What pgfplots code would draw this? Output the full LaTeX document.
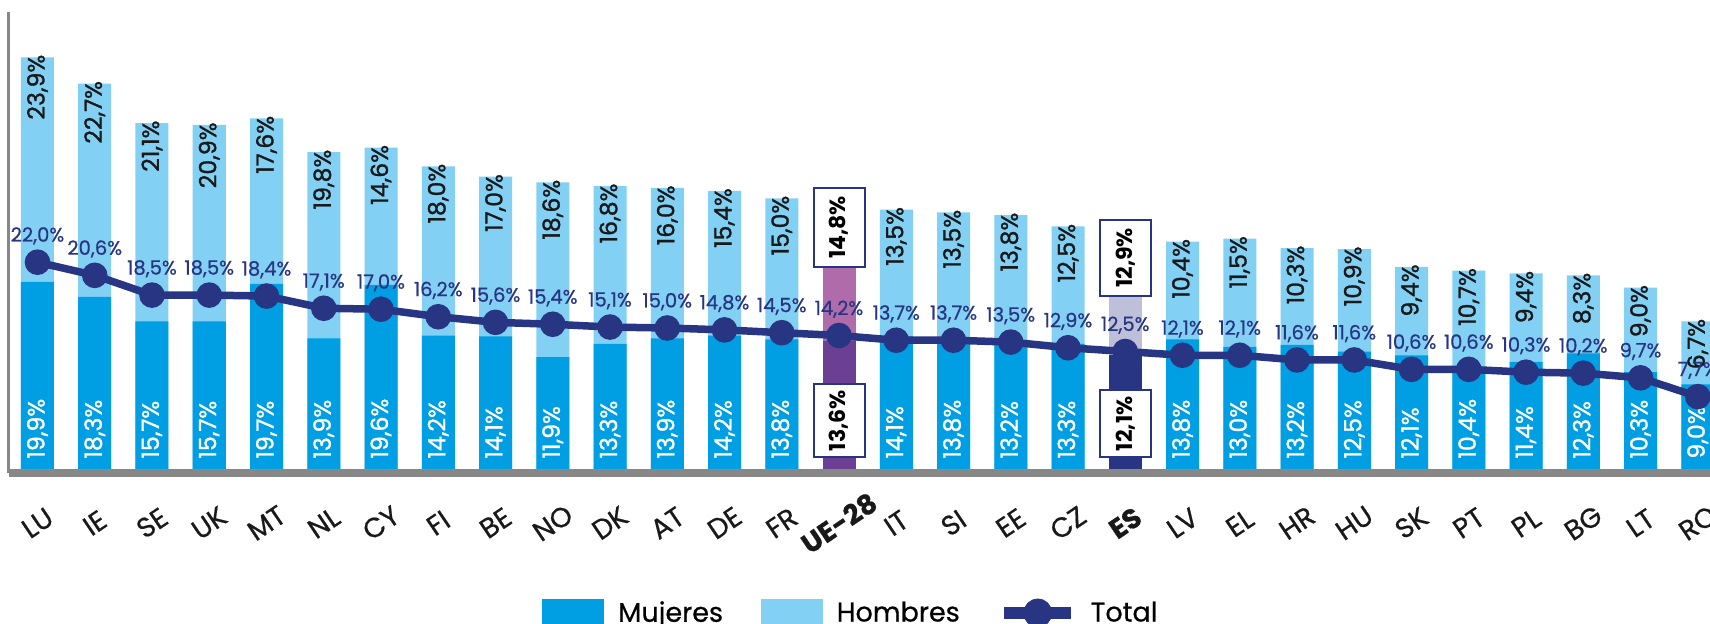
\documentclass[border=0pt]{standalone}
\usepackage{pgfplots}
\pgfplotsset{compat=1.18}
\usepackage{pgfplotstable}
\usepackage{fontspec}
\setmainfont{Poppins}
\newfontfamily\med[FakeBold=1.2]{Poppins}
\newfontfamily\semi[FakeBold=0.6]{Poppins}
\definecolor{mcol}{HTML}{009FE3}
\definecolor{hcol}{HTML}{83D0F5}
\definecolor{navy}{HTML}{283583}
\definecolor{uedark}{HTML}{6B3F94}
\definecolor{uelight}{HTML}{B06CAA}
\definecolor{esdark}{HTML}{283583}
\definecolor{eslight}{HTML}{BEC0DA}
\definecolor{axgrey}{HTML}{878787}

% all countries: x, mujeres, hombres, total
\pgfplotstableread{
x m h t
0 19.9 23.9 22.0
1 18.3 22.7 20.6
2 15.7 21.1 18.5
3 15.7 20.9 18.5
4 19.7 17.6 18.4
5 13.9 19.8 17.1
6 19.6 14.6 17.0
7 14.2 18.0 16.2
8 14.1 17.0 15.6
9 11.9 18.6 15.4
10 13.3 16.8 15.1
11 13.9 16.0 15.0
12 14.2 15.4 14.8
13 13.8 15.0 14.5
14 13.6 14.8 14.2
15 14.1 13.5 13.7
16 13.8 13.5 13.7
17 13.2 13.8 13.5
18 13.3 12.5 12.9
19 12.1 12.9 12.5
20 13.8 10.4 12.1
21 13.0 11.5 12.1
22 13.2 10.3 11.6
23 12.5 10.9 11.6
24 12.1 9.4 10.6
25 10.4 10.7 10.6
26 11.4 9.4 10.3
27 12.3 8.3 10.2
28 10.3 9.0 9.7
29 9.0 6.7 7.7
}\alldata

% countries drawn in the standard colours
\pgfplotstableread{
x m h
0 19.9 23.9
1 18.3 22.7
2 15.7 21.1
3 15.7 20.9
4 19.7 17.6
5 13.9 19.8
6 19.6 14.6
7 14.2 18.0
8 14.1 17.0
9 11.9 18.6
10 13.3 16.8
11 13.9 16.0
12 14.2 15.4
13 13.8 15.0
15 14.1 13.5
16 13.8 13.5
17 13.2 13.8
18 13.3 12.5
20 13.8 10.4
21 13.0 11.5
22 13.2 10.3
23 12.5 10.9
24 12.1 9.4
25 10.4 10.7
26 11.4 9.4
27 12.3 8.3
28 10.3 9.0
29 9.0 6.7
}\norm

\pgfplotstableread{
x m h
14 13.6 14.8
}\ue
\pgfplotstableread{
x m h
19 12.1 12.9
}\es
\pgfplotstableread{
x m h
14 13.6 14.8
19 12.1 12.9
}\spec

\newcommand{\pct}{\pgfmathprintnumber[fixed,fixed zerofill,precision=1,use comma,assume math mode=true]{\pgfplotspointmeta}\%}

\begin{document}
\begin{tikzpicture}
\begin{axis}[
  anchor=origin, at={(0,0)},
  x=28.625pt, y=4.7pt,
  xmin=-0.5, xmax=29.214,
  ymin=-0.4255, ymax=48.62,
  axis x line*=bottom, axis y line*=left,
  axis line style={-},
  x axis line style={line width=4pt, draw=axgrey},
  y axis line style={line width=1.5pt, draw=axgrey},
  ytick=\empty,
  xtick={0,...,29},
  xticklabels={LU,IE,SE,UK,MT,NL,CY,FI,BE,NO,DK,AT,DE,FR,\textbf{UE-28},IT,SI,EE,CZ,\textbf{ES},LV,EL,HR,HU,SK,PT,PL,BG,LT,RO},
  major tick length=0pt,
  xticklabel style={yshift=-25pt, xshift=0pt, rotate=34, anchor=center, font=\semi\fontsize{13.8}{13.8}\selectfont, text=black!90},
  legend columns=3,
  legend style={at={(0.3134,-0.3037)}, anchor=west, draw=none, fill=none, inner sep=0pt,
    font=\semi\fontsize{13.5}{13.5}\selectfont,
    nodes={inner sep=0pt},
    /tikz/every odd column/.append style={column sep=7pt},
    /tikz/every even column/.append style={column sep=19pt},
    /tikz/column 5/.style={column sep=11pt}},
]
% bars
\addplot[ybar, bar width=16.5pt, bar shift=0pt, fill=hcol, draw=none, forget plot] table[x=x, y expr=\thisrow{m}+\thisrow{h}] {\norm};
\addplot[ybar, bar width=16.5pt, bar shift=0pt, fill=mcol, draw=none, forget plot] table[x=x, y=m] {\norm};
\addplot[ybar, bar width=16.5pt, bar shift=0pt, fill=uelight, draw=none, forget plot] table[x=x, y expr=\thisrow{m}+\thisrow{h}] {\ue};
\addplot[ybar, bar width=16.5pt, bar shift=0pt, fill=uedark, draw=none, forget plot] table[x=x, y=m] {\ue};
\addplot[ybar, bar width=16.5pt, bar shift=0pt, fill=eslight, draw=none, forget plot] table[x=x, y expr=\thisrow{m}+\thisrow{h}] {\es};
\addplot[ybar, bar width=16.5pt, bar shift=0pt, fill=esdark, draw=none, forget plot] table[x=x, y=m] {\es};

% hombres labels
\addplot[draw=none, mark=none, forget plot, point meta=explicit, nodes near coords=\pct,
  nodes near coords style={font=\med\fontsize{11.8}{11.8}\selectfont, text=black!90, yshift=1.5pt, rotate=90, anchor=east, inner sep=0pt}]
  table[x=x, y expr=\thisrow{m}+\thisrow{h}, meta=h] {\norm};
% mujeres labels
\addplot[draw=none, mark=none, forget plot, point meta=explicit, nodes near coords=\pct,
  nodes near coords style={font=\med\fontsize{11.8}{11.8}\selectfont, text=white, yshift=5pt, rotate=90, anchor=west, inner sep=0pt}]
  table[x=x, y expr=0, meta=m] {\norm};

% total line
\addplot[navy, line width=3.75pt, mark=*, mark size=4.5pt, mark options={solid, draw=none, fill=navy}, forget plot,
  point meta=explicit, nodes near coords=\pct,
  nodes near coords style={font=\semi\fontsize{9.8}{9.8}\selectfont, text=navy, anchor=south, inner sep=0pt, yshift=7pt}]
  table[x=x, y=t, meta=t] {\alldata};

% boxed labels for UE-28 and ES
\addplot[draw=none, mark=none, forget plot, point meta=explicit, nodes near coords=\pct,
  nodes near coords style={font=\bfseries\fontsize{11}{11}\selectfont, text=black, fill=white, draw=navy, line width=1pt,
    yshift=7.5pt, rotate=90, anchor=east, minimum height=25.5pt, inner xsep=4pt, inner ysep=0pt}]
  table[x=x, y expr=\thisrow{m}+\thisrow{h}, meta=h] {\spec};
\addplot[draw=none, mark=none, forget plot, point meta=explicit, nodes near coords=\pct,
  nodes near coords style={font=\bfseries\fontsize{11}{11}\selectfont, text=black, fill=white, draw=navy, line width=1pt,
    yshift=5.5pt, rotate=90, anchor=west, minimum height=25.5pt, inner xsep=3pt, inner ysep=0pt}]
  table[x=x, y expr=0, meta=m] {\spec};

% legend
\addlegendimage{legend image code/.code={\fill[mcol] (0pt,-7pt) rectangle (30.5pt,7pt);}}
\addlegendentry{Mujeres}
\addlegendimage{legend image code/.code={\fill[hcol] (0pt,-7pt) rectangle (30.5pt,7pt);}}
\addlegendentry{Hombres}
\addlegendimage{legend image code/.code={\draw[navy, line width=6pt] (0pt,0pt) -- (33.5pt,0pt); \fill[navy] (17pt,0pt) circle (7pt);}}
\addlegendentry{Total}
\end{axis}
\pgfresetboundingbox
\path[use as bounding box] (-18.75pt,-77pt) rectangle (836.25pt,234.5pt);
\end{tikzpicture}
\end{document}
